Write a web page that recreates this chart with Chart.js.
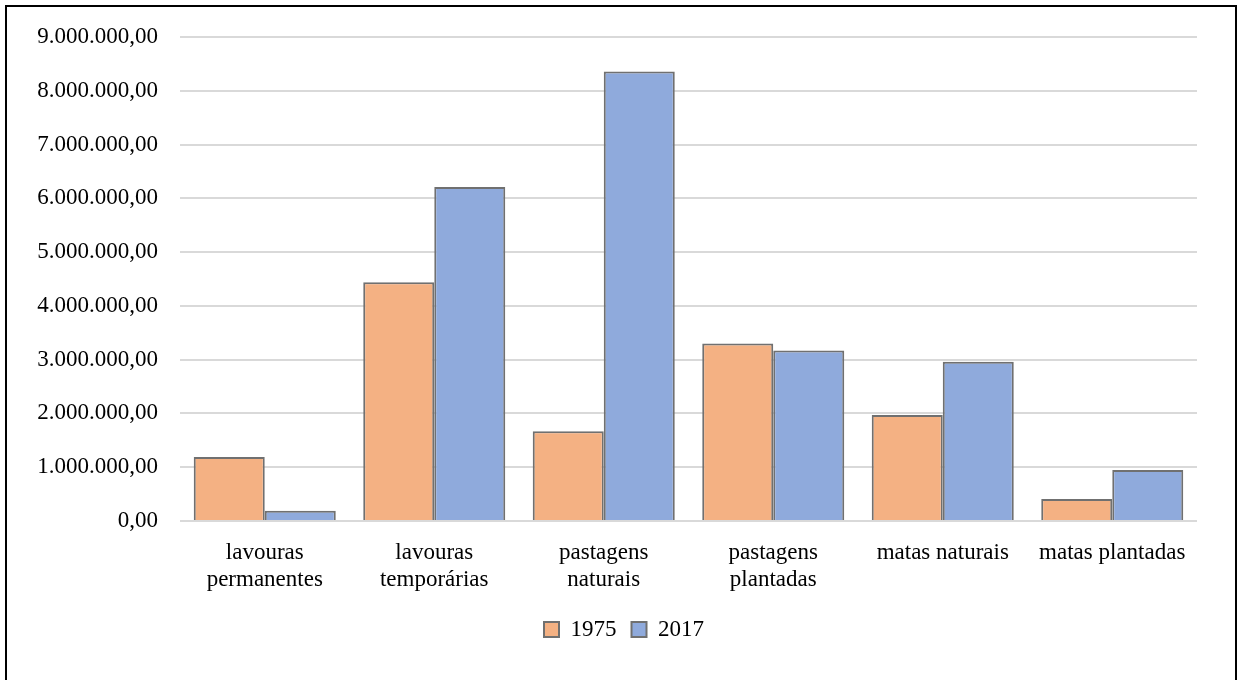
<!DOCTYPE html>
<html>
<head>
<meta charset="utf-8">
<script src="https://cdn.jsdelivr.net/npm/chart.js@4"></script>
<style>
  html, body { margin: 0; padding: 0; background: #fff; width: 1238px; height: 680px; overflow: hidden; }
  #c { position: absolute; left: 0; top: 0; }
  #frame { position: absolute; left: 5px; top: 5px; width: 1232px; height: 720px; border: 2px solid #000; box-sizing: border-box; pointer-events: none; }
</style>
</head>
<body>
<canvas id="c" width="1238" height="680"></canvas>
<div id="frame"></div>
<script>
const categories = [
  ['lavouras', 'permanentes'],
  ['lavouras', 'temporárias'],
  ['pastagens', 'naturais'],
  ['pastagens', 'plantadas'],
  'matas naturais',
  'matas plantadas'
];
const seriesNames = ['1975', '2017'];
const values1975 = [1190000, 4440000, 1670000, 3300000, 1970000, 410000];
const values2017 = [190000, 6210000, 8360000, 3170000, 2960000, 950000];
const yTickLabels = ['0,00', '1.000.000,00', '2.000.000,00', '3.000.000,00', '4.000.000,00',
  '5.000.000,00', '6.000.000,00', '7.000.000,00', '8.000.000,00', '9.000.000,00'];

const FONT = 'Liberation Serif, Times New Roman, serif';
const FS = 23;

new Chart(document.getElementById('c'), {
  type: 'bar',
  data: {
    labels: categories,
    datasets: [
      { label: seriesNames[0], data: values1975, backgroundColor: '#F4B183', borderColor: '#707070', borderWidth: 2 },
      { label: seriesNames[1], data: values2017, backgroundColor: '#8FAADC', borderColor: '#707070', borderWidth: 2 }
    ]
  },
  options: {
    responsive: false,
    devicePixelRatio: 1,
    animation: false,
    layout: { padding: { top: 37, left: 10, right: 0, bottom: 29 } },
    datasets: { bar: { categoryPercentage: 0.838, barPercentage: 1.0 } },
    plugins: {
      tooltip: { enabled: false },
      legend: {
        position: 'bottom',
        labels: {
          font: { family: FONT, size: FS },
          color: '#000',
          boxWidth: 15,
          boxHeight: 15,
          padding: 15
        }
      }
    },
    scales: {
      x: {
        grid: { display: false },
        border: { display: false },
        ticks: { font: { family: FONT, size: FS }, color: '#000', padding: 10, maxRotation: 0, autoSkip: false },
        afterFit: (s) => { s.height = 82; }
      },
      y: {
        min: 0,
        max: 9000000,
        ticks: {
          stepSize: 1000000,
          font: { family: FONT, size: FS },
          color: '#000',
          padding: 22,
          callback: (v, i) => yTickLabels[i]
        },
        grid: { color: '#D9D9D9', lineWidth: 2, drawTicks: false },
        border: { display: false },
        afterFit: (s) => { s.width = 170; }
      },
      yRight: {
        type: 'linear',
        position: 'right',
        display: true,
        grid: { display: false, drawTicks: false },
        border: { display: false },
        ticks: { display: false },
        afterFit: (s) => { s.width = 41; }
      }
    }
  }
});
</script>
</body>
</html>
